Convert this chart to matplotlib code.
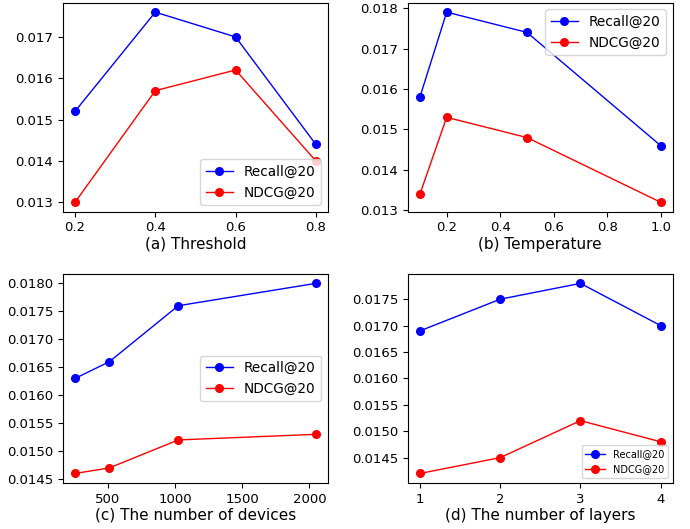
import matplotlib
matplotlib.use("Agg")
import matplotlib.pyplot as plt
from matplotlib.ticker import MultipleLocator, FormatStrFormatter

# (a) threshold
thr = [0.2, 0.4, 0.6, 0.8]
thr_recall = [0.0152, 0.0176, 0.0170, 0.0144]
thr_ndcg = [0.0130, 0.0157, 0.0162, 0.0140]

# (b) temperature
temp = [0.1, 0.2, 0.5, 1.0]
temp_recall = [0.0158, 0.0179, 0.0174, 0.0146]
temp_ndcg = [0.0134, 0.0153, 0.0148, 0.0132]

# (c) number of devices
dev = [256, 512, 1024, 2048]
dev_recall = [0.0163, 0.0166, 0.0176, 0.0180]
dev_ndcg = [0.0146, 0.0147, 0.0152, 0.0153]

# (d) number of layers
layers = [1, 2, 3, 4]
lay_recall = [0.0169, 0.0175, 0.0178, 0.0170]
lay_ndcg = [0.0142, 0.0145, 0.0152, 0.0148]

panels = [
    (thr, thr_recall, thr_ndcg, "(a) Threshold", "lower right", 9.8),
    (temp, temp_recall, temp_ndcg, "(b) Temperature", "upper right", 9.8),
    (dev, dev_recall, dev_ndcg, "(c) The number of devices", "center right", 9.8),
    (layers, lay_recall, lay_ndcg, "(d) The number of layers", "lower right", 7),
]

fig, axes = plt.subplots(2, 2, figsize=(6.9, 5.29), dpi=100)
for ax, (x, rec, ndcg, label, loc, lfs) in zip(axes.flat, panels):
    ax.plot(x, rec, "o-", color="blue", lw=1, ms=5.5, label="Recall@20")
    ax.plot(x, ndcg, "o-", color="red", lw=1, ms=5.5, label="NDCG@20")
    ax.set_xlabel(label, fontsize=11, labelpad=1.5)
    ax.tick_params(labelsize=9.5)
    ax.legend(loc=loc, fontsize=lfs)

for ax in axes[0]:
    ax.yaxis.set_major_locator(MultipleLocator(0.001))
    ax.yaxis.set_major_formatter(FormatStrFormatter("%.3f"))
for ax in axes[1]:
    ax.yaxis.set_major_locator(MultipleLocator(0.0005))
    ax.yaxis.set_major_formatter(FormatStrFormatter("%.4f"))

axes[1, 0].set_xticks([500, 1000, 1500, 2000])
axes[1, 1].set_xticks([1, 2, 3, 4])

plt.subplots_adjust(left=0.0913, right=0.975, top=0.995, bottom=0.087,
                    wspace=0.302, hspace=0.297)
plt.savefig("out.png")
